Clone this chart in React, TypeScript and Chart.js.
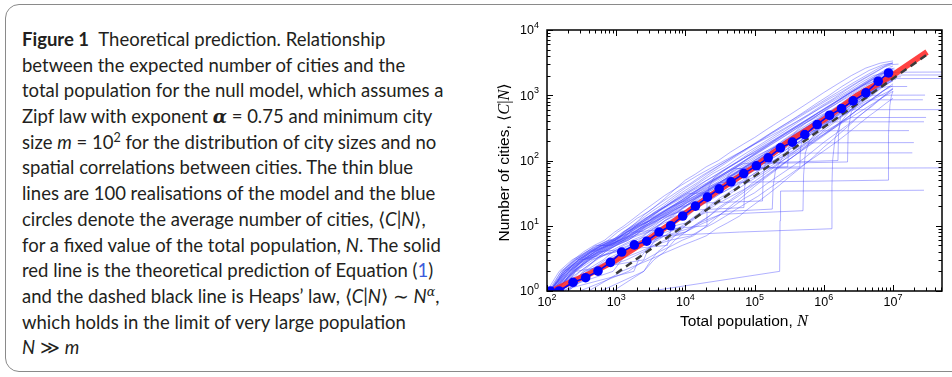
import React, { useEffect, useRef } from 'react';
import { Chart, registerables } from 'chart.js';

Chart.register(...registerables);

// ---------- axis ranges & ticks ----------
const X_MIN = 100;
const X_MAX = 5.1e7;
const Y_MIN = 1;
const Y_MAX = 1e4;
const X_TICKS = [1e2, 1e3, 1e4, 1e5, 1e6, 1e7];
const Y_TICKS = [1e0, 1e1, 1e2, 1e3, 1e4];

// ---------- average number of cities (blue circles) ----------
const AVG_N = [112, 150, 238, 362, 546, 824, 1200, 1830, 2760, 4160, 6130, 9140, 13960, 20800, 30700, 45700, 69600,
  106000, 157000, 236000, 352000, 531000, 801000, 1210000, 1800000, 2650000, 4050000, 6100000, 8600000];
const AVG_C = [1.0, 1.0, 1.36, 1.6, 2.02, 2.75, 3.95, 5.1, 5.8, 8.0, 10.0, 14.1, 20, 27.5, 36.8, 47, 63,
  83, 110, 156, 191, 250, 356, 494, 625, 819, 1086, 1638, 2197];

// ---------- theoretical prediction (red) ----------
const THEORY_N = [120, 200, 400, 1000, 3000, 1e4, 3e4, 1e5, 3e5, 1e6, 3e6, 1e7, 3.1e7];
const THEORY_C = [1, 1.3, 1.8, 3.0, 6.3, 15.5, 35, 80, 190, 420, 980, 2050, 4600];

// ---------- Heaps' law (dashed black) ----------
const HEAPS_N = [1000, 3e7];
const HEAPS_C = [1.86, 4100];

// ---------- realisations of the model (thin blue), [N, C] ----------
const REALISATIONS: number[][][] = [
  [[120,1],[190,2],[280,3],[420,4],[560,5],[800,6],[1000,6],[1300,8],[1900,11],[2600,15],[3500,19],[5000,26],[7000,36],[1e4,50],[1.4e4,62],[2e4,80],[3e4,100],[4.5e4,135],[7e4,180],[1e5,225],[1.5e5,300],[2.2e5,390],[3.2e5,500],[5e5,680],[7.5e5,900],[1e6,1100],[1.6e6,1500],[2.5e6,2000],[4e6,2600],[6.5e6,3100],[9e6,3300],[1e7,3350]],
  [[110,1],[170,2],[300,3],[450,4],[600,5],[900,5],[1200,7],[1700,9],[2400,12],[3300,15],[4800,20],[7000,27],[1e4,35],[1.5e4,46],[2.2e4,62],[3.3e4,82],[5e4,110],[7.5e4,145],[1.1e5,190],[1.6e5,250],[2.4e5,330],[3.6e5,430],[5.5e5,580],[8e5,760],[1.2e6,1000],[1.8e6,1350],[2.8e6,1800],[4.5e6,2400],[7e6,2900],[1e7,3150]],
  [[140,1],[230,2],[330,3],[520,4],[750,5],[1000,6],[1400,7],[1900,10],[2700,13],[3800,16],[5500,21],[8000,28],[1.2e4,37],[1.7e4,48],[2.5e4,63],[3.8e4,80],[5.5e4,105],[8e4,135],[1.2e5,175],[1.8e5,230],[2.7e5,300],[4e5,390],[6e5,510],[9e5,680],[1.4e6,900],[2.1e6,1200],[3.2e6,1600],[5e6,2100],[7.5e6,2700],[9.5e6,2950],[1.2e7,3000]],
  [[100,1],[150,2],[230,3],[380,4],[500,5],[700,5],[950,6],[1300,8],[1800,10],[2500,12],[3500,16],[5200,20],[7500,26],[1.1e4,33],[1.6e4,43],[2.4e4,55],[3.6e4,72],[5.5e4,95],[8e4,125],[1.2e5,165],[1.8e5,215],[2.7e5,280],[4e5,370],[6e5,490],[9e5,650],[1.4e6,870],[2.2e6,1150],[3.4e6,1550],[5.2e6,2000],[8e6,2250],[5.2e7,2270]],
  [[130,1],[210,2],[350,3],[480,4],[700,5],[1100,6],[1500,8],[2100,10],[3000,12],[4200,15],[6000,19],[8500,24],[1.2e4,31],[1.8e4,40],[2.7e4,52],[4e4,68],[6e4,88],[9e4,115],[1.35e5,150],[2e5,195],[3e5,255],[4.5e5,335],[7e5,440],[1e6,580],[1.5e6,780],[2.3e6,1050],[3.5e6,1400],[5.5e6,1850],[8e6,2040],[5.2e7,2045]],
  [[115,1],[180,2],[260,3],[400,4],[620,5],[850,6],[1150,7],[1600,9],[2300,11],[3200,14],[4500,18],[6500,23],[9500,30],[1.4e4,38],[2e4,49],[3e4,63],[4.4e4,80],[6.5e4,103],[9.5e4,133],[1.4e5,172],[2.1e5,222],[3.1e5,287],[4.6e5,370],[7e5,480],[1.05e6,620],[1.6e6,820],[2.4e6,1080],[3.7e6,1420],[5.5e6,1650],[9e6,1800],[5.2e7,1805]],
  [[150,1],[260,2],[400,3],[650,4],[900,5],[1300,6],[1800,7],[2500,9],[3500,11],[5000,14],[7000,17],[1e4,22],[1.5e4,28],[2.2e4,36],[3.2e4,47],[4.8e4,60],[7e4,78],[1e5,100],[1.5e5,130],[2.2e5,170],[3.2e5,220],[4.8e5,290],[7e5,380],[1e6,500],[1.5e6,660],[2.2e6,880],[3.3e6,1160],[5e6,1520],[7.5e6,1950],[9.5e6,2200],[1.1e7,2250]],
  [[110,1],[200,2],[310,3],[440,4],[640,5],[900,6],[1250,8],[1700,10],[2400,13],[3400,17],[4900,22],[7000,29],[1e4,38],[1.45e4,49],[2.1e4,64],[3e4,82],[4.4e4,105],[6.4e4,135],[9.3e4,175],[1.35e5,225],[2e5,290],[2.9e5,370],[4.2e5,470],[6.2e5,600],[9e5,770],[1.3e6,980],[1.9e6,1250],[2.8e6,1600],[4.2e6,2050],[6.2e6,2600],[8.5e6,3000],[1e7,3100]],
  [[125,1],[220,2],[340,3],[560,4],[800,5],[1150,6],[1600,8],[2200,10],[3100,13],[4400,16],[6300,20],[9000,25],[1.3e4,32],[1.9e4,41],[2.8e4,53],[4.1e4,69],[6e4,89],[8.8e4,115],[1.3e5,150],[1.9e5,195],[2.8e5,255],[4.1e5,330],[6e5,430],[8.8e5,560],[1.3e6,730],[1.9e6,950],[2.8e6,1230],[4.1e6,1600],[6e6,2050],[8.5e6,2500],[1.05e7,2600]],
  [[105,1],[160,2],[250,3],[370,4],[540,5],[760,6],[1050,8],[1450,10],[2000,13],[2800,16],[4000,21],[5700,27],[8200,35],[1.2e4,45],[1.7e4,58],[2.5e4,74],[3.7e4,95],[5.4e4,122],[8e4,157],[1.2e5,200],[1.75e5,258],[2.6e5,330],[3.8e5,420],[5.6e5,540],[8.2e5,690],[1.2e6,880],[1.8e6,1120],[2.6e6,1430],[3.8e6,1820],[5.6e6,2300],[8e6,2850],[9.8e6,3100]],
  [[160,1],[300,2],[520,3],[800,4],[1200,5],[1700,6],[2400,7],[3300,9],[4600,11],[6500,14],[9000,18],[1.3e4,23],[1.8e4,29],[2.6e4,37],[3.7e4,47],[5.3e4,60],[7.5e4,77],[1.1e5,98],[1.55e5,125],[2.2e5,160],[3.2e5,205],[4.6e5,262],[6.6e5,335],[9.5e5,430],[1.4e6,550],[2e6,700],[2.9e6,900],[4.2e6,1150],[6e6,1300],[9e6,1360],[1.6e7,1362]],
  [[140,1],[240,2],[380,3],[580,4],[850,5],[1250,6],[1800,7],[2600,8],[3600,10],[5000,13],[7000,16],[1e4,20],[1.4e4,26],[2e4,33],[2.9e4,42],[4.2e4,54],[6e4,70],[8.7e4,90],[1.25e5,116],[1.8e5,150],[2.6e5,194],[3.8e5,250],[5.5e5,320],[8e5,410],[1.15e6,520],[1.7e6,660],[2.5e6,840],[3.6e6,1070],[5.3e6,1370],[7.8e6,1750],[1e7,1900],[1.3e7,1920]],
  [[120,1],[170,2],[240,3],[340,4],[480,5],[680,6],[950,8],[1300,10],[1800,13],[2500,17],[3500,22],[5000,29],[7200,37],[1.05e4,47],[1.5e4,59],[2.2e4,74],[3.2e4,92],[4.7e4,115],[6.9e4,143],[1e5,178],[1.5e5,222],[2.2e5,276],[3.2e5,344],[4.7e5,430],[6.9e5,540],[1e6,680],[1.5e6,860],[2.2e6,1090],[3.2e6,1390],[4.7e6,1780],[6.9e6,2280],[9e6,2700],[1e7,2800]],
  [[200,1],[330,2],[500,3],[700,4],[1000,5],[1400,6],[2000,8],[2800,10],[4000,12],[5600,15],[8000,19],[1.15e4,24],[1.65e4,30],[2.4e4,39],[3.5e4,50],[5e4,64],[7.2e4,82],[1.05e5,105],[1.5e5,135],[2.2e5,172],[3.2e5,220],[4.6e5,282],[6.7e5,360],[9.7e5,460],[1.4e6,590],[2e6,750],[2.9e6,960],[4.2e6,1230],[6e6,1570],[8.7e6,1990],[1e7,2100]],
  [[110,1],[180,2],[290,3],[430,4],[610,5],[880,6],[1250,8],[1800,10],[2600,13],[3700,16],[5300,20],[7600,25],[1.1e4,31],[3.5e4,33],[3.7e4,45],[4.2e4,60],[5.5e4,80],[7.5e4,103],[1.05e5,132],[1.5e5,168],[2.1e5,214],[3e5,272],[4.3e5,345],[6.1e5,438],[8.7e5,555],[1.24e6,700],[1.77e6,885],[2.5e6,1120],[3.6e6,1410],[5.1e6,1780],[7.3e6,2240],[9.5e6,2600]],
  [[135,1],[250,2],[370,3],[540,4],[790,5],[1150,6],[1650,7],[2350,9],[3300,12],[4700,15],[6700,19],[9500,24],[1.35e4,31],[1.95e4,40],[2.8e4,51],[4e4,65],[5.7e4,83],[8.2e4,106],[1.18e5,135],[1.7e5,172],[2.45e5,219],[3.5e5,279],[5e5,356],[7.2e5,454],[1.03e6,580],[1.5e6,740],[2.1e6,940],[3e6,1200],[4.3e6,1530],[6.2e6,1950],[8.5e6,2400],[1.05e7,2450]],
  [[150,1],[1800,2],[2100,3],[2600,4],[3200,5],[4000,7],[5200,9],[7000,12],[9500,15],[1.3e4,19],[1.8e4,24],[2.6e4,31],[3.7e4,40],[5.3e4,51],[7.6e4,66],[1.1e5,85],[1.6e5,110],[2.3e5,142],[3.3e5,183],[4.8e5,236],[7e5,304],[1e6,390],[1.45e6,500],[2.1e6,640],[3e6,820],[4.3e6,1050],[6.2e6,1340],[9e6,1700],[1.1e7,1750]],
  [[120,1],[210,2],[330,3],[500,4],[750,5],[1100,6],[1600,7],[2300,9],[3300,11],[4700,14],[6800,18],[9800,23],[1.4e4,29],[2e4,37],[2.9e4,47],[4.2e4,60],[6e4,77],[8.7e4,98],[1.25e5,125],[1.8e5,158],[2.6e5,200],[3.7e5,254],[5.4e5,322],[7.8e5,408],[1.1e6,517],[1.6e6,655],[2.3e6,800],[3.2e6,900],[4.5e6,980],[5e6,1000],[2.9e7,1005]],
  [[130,1],[250,2],[400,3],[620,4],[950,5],[1400,6],[2000,7],[2900,8],[4100,10],[5900,12],[8500,15],[1.2e4,19],[1.75e4,24],[2.5e4,30],[3.6e4,38],[5.2e4,48],[7.5e4,61],[1.08e5,78],[1.55e5,99],[2.25e5,125],[3.2e5,159],[4.65e5,202],[6.7e5,256],[9.6e5,325],[1.4e6,412],[2e6,522],[2.9e6,662],[4e6,800],[4.5e6,850],[2.7e7,852]],
  [[110,1],[160,2],[260,3],[400,4],[600,5],[880,6],[1300,7],[1900,9],[2700,11],[3900,14],[5600,18],[8000,23],[1.15e4,29],[1.65e4,37],[2.4e4,47],[3.5e4,59],[5e4,75],[3e5,80],[3.1e5,150],[3.4e5,230],[4.2e5,300],[5.6e5,380],[7.5e5,450],[1e6,520],[1.3e6,580],[1.5e6,600],[5.2e7,602]],
  [[160,1],[350,2],[650,3],[900,4],[1300,5],[1900,6],[2800,7],[4000,9],[5700,11],[8200,14],[1.2e4,17],[1.7e4,21],[2.4e4,26],[3.5e4,33],[5e4,41],[7.2e4,52],[1.04e5,65],[1.5e5,82],[2.15e5,103],[3.1e5,130],[4.5e5,164],[6.5e5,206],[9.3e5,260],[1.35e6,327],[1.9e6,400],[2.4e6,455],[3e7,457]],
  [[120,1],[200,2],[320,3],[480,4],[700,5],[1000,6],[1450,8],[2100,10],[3000,12],[4300,15],[6200,19],[9000,24],[1.3e4,30],[1.9e4,38],[2.7e4,48],[3.9e4,60],[5.6e4,75],[4.5e5,80],[4.6e5,150],[4.9e5,230],[5.5e5,300],[6.5e5,360],[7.5e5,390],[2.8e7,392]],
  [[130,1],[240,2],[380,3],[600,4],[850,5],[1300,6],[1900,8],[2700,11],[4000,14],[6000,18],[9000,23],[1.4e4,29],[2.1e4,37],[3.2e4,47],[4.8e4,60],[7e4,78],[1.1e5,100],[1.6e5,130],[2.4e5,170],[3.6e5,215],[5e5,260],[6e5,285],[1.7e7,287]],
  [[110,1],[190,2],[300,3],[460,4],[700,5],[950,6],[1400,8],[2000,10],[3000,13],[4300,17],[6500,22],[1e4,28],[1.5e4,36],[2.2e4,46],[3.3e4,58],[5e4,74],[7.5e4,95],[1.1e5,120],[1.7e5,150],[2.5e5,180],[2.7e5,186],[2e7,188]],
  [[140,1],[250,2],[420,3],[650,4],[1000,5],[1500,6],[2200,8],[3300,10],[5000,13],[7500,16],[1.1e4,21],[1.7e4,26],[2.6e4,33],[4e4,41],[6e4,52],[9e4,66],[1.4e5,85],[2.1e5,105],[3e5,125],[3.2e5,130],[1.9e7,131]],
  [[120,1],[300,2],[500,3],[700,4],[1000,5],[1500,7],[2200,9],[3500,12],[5000,15],[8000,19],[1.2e4,24],[1.8e4,30],[2.7e4,38],[4e4,48],[6e4,60],[8e4,72],[9e4,76],[5e7,77]],
  [[3200,1],[2.3e5,2],[2.33e5,12],[2.37e5,34],[2.8e7,35]],
  [[150,1],[400,2],[700,3],[1200,4],[2000,5],[3000,6],[4500,7],[6e4,8],[1.3e6,9],[1.31e6,40],[1.34e6,100],[1.45e6,220],[1.8e6,400],[2.6e6,650],[3.8e6,950],[5.5e6,1300],[8e6,1650],[1e7,1800]],
  [[200,1],[500,2],[900,3],[1500,4],[2500,5],[4000,6],[6000,8],[9000,10],[1.3e4,13],[2e4,16],[1.8e5,18],[1.85e5,40],[2e5,70],[2.5e5,110],[3.5e5,160],[5e5,220],[8e5,310],[1.3e6,430],[2e6,600],[3.2e6,850],[5e6,1150],[8e6,1500],[1e7,1650]],
  [[110,1],[190,2],[290,3],[450,4],[650,5],[950,6],[1400,8],[2000,10],[2900,13],[4200,17],[6000,22],[9000,28],[1.3e4,35],[2e4,45],[3e4,57],[4.5e4,72],[7e4,90],[1.6e6,100],[1.63e6,250],[1.75e6,480],[2.3e6,750],[3.5e6,1100],[5.5e6,1500],[8.5e6,1950],[1e7,2100]],
  [[130,1],[220,2],[350,3],[550,4],[800,5],[1200,6],[1800,8],[2600,10],[3800,13],[5500,16],[8000,20],[1.2e4,25],[1.8e4,32],[2.7e4,40],[4e4,50],[6e4,62],[9e4,75],[1.3e5,90],[2.2e6,95],[2.25e6,300],[2.5e6,560],[3.5e6,850],[5e6,1150],[7.5e6,1500],[9.5e6,1700]],
  [[120,1],[210,2],[330,3],[500,4],[750,5],[1100,6],[1600,8],[2300,10],[3300,13],[4700,16],[6800,20],[9800,25],[1.4e4,31],[2e4,38],[3e4,46],[8.5e6,50],[8.6e6,250],[9e6,700],[9.5e6,1000],[1e7,1150]],
  [[130,1],[900,2],[1200,3],[1600,4],[2100,5],[2800,7],[3700,9],[5000,12],[6800,15],[9300,19],[1.3e4,24],[1.8e4,30],[2.5e4,38],[3.5e4,48],[5e4,60],[7e4,76],[1e5,96],[1.4e5,120],[2e5,150],[2.8e5,190],[4e5,240],[5.7e5,300],[8e5,380],[1.15e6,480],[1.6e6,600],[2.3e6,760],[3.3e6,960],[4.7e6,1210],[6.7e6,1520],[9e6,1850],[1e7,1950]],
  [[600,1],[2500,2],[3200,3],[4000,4],[5200,5],[7000,7],[9000,9],[1.2e4,12],[1.6e4,15],[2.2e4,19],[3e4,24],[4.2e4,30],[6e4,38],[8.5e4,48],[1.2e5,60],[1.7e5,76],[2.4e5,96],[3.4e5,120],[4.8e5,152],[6.8e5,192],[9.6e5,242],[1.35e6,305],[1.9e6,385],[2.7e6,485],[3.8e6,610],[5.4e6,770],[7.6e6,970],[1e7,1150]],
  [[140,1],[230,2],[360,3],[560,4],[5500,5],[5800,7],[6500,10],[8000,14],[1.05e4,18],[1.45e4,23],[2e4,29],[2.8e4,37],[4e4,47],[5.6e4,60],[8e4,76],[1.13e5,96],[1.6e5,122],[2.3e5,155],[3.2e5,196],[4.6e5,248],[6.5e5,314],[9.2e5,397],[1.3e6,502],[1.85e6,635],[2.6e6,803],[3.7e6,1015],[5.2e6,1283],[7.4e6,1622],[9.5e6,1900]],
  [[120,1],[200,2],[320,3],[500,4],[760,5],[1150,6],[1700,8],[2500,10],[3700,12],[5400,15],[8000,19],[1.2e4,22],[1.3e5,24],[1.33e5,60],[1.45e5,100],[1.8e5,150],[2.5e5,200],[3.6e5,260],[5.2e5,330],[7.5e5,420],[1.1e6,530],[1.6e6,670],[2.3e6,850],[3.3e6,1080],[4.8e6,1370],[7e6,1740],[9.5e6,2050]],
  [[170,1],[260,2],[2500,3],[2800,4],[3200,5],[3800,6],[4600,8],[5800,10],[7500,13],[1e4,16],[1.4e4,20],[1.9e4,25],[2.7e4,32],[3.8e4,40],[5.3e4,51],[7.4e4,64],[1.05e5,81],[1.5e5,102],[2.1e5,128],[3e5,162],[4.2e5,205],[6e5,258],[8.5e5,325],[1.2e6,410],[1.7e6,518],[2.4e6,653],[3.4e6,824],[4.8e6,1040],[6.8e6,1312],[9.5e6,1650]],
  [[110,1],[180,2],[280,3],[420,4],[640,5],[960,6],[1450,8],[2150,10],[3200,12],[4700,15],[7000,19],[1.05e4,24],[1.55e4,30],[2.3e4,38],[3.4e4,48],[5e4,60],[7.4e4,76],[1.1e5,96],[1.6e5,121],[2.4e5,152],[3.5e5,190],[5.2e5,238],[7.7e5,298],[1.14e6,372],[1.7e6,464],[2.5e6,580],[3.7e6,720],[5.5e6,900],[8e6,1100],[1e7,1250]],
  [[140,1],[500,2],[1400,3],[2500,4],[3500,5],[5000,6],[7000,7],[1e4,8],[1.5e4,11],[2.2e4,14],[3e4,19],[4.5e4,25],[7e4,35],[1e5,48],[1.5e5,65],[2.2e5,88],[3.2e5,120],[5e5,170],[7e5,225],[1e6,310],[1.5e6,420],[2.2e6,560],[3.2e6,750],[5e6,1050],[7e6,1400],[1e7,1800]],
  [[300,1],[1500,2],[2600,3],[4200,4],[6500,5],[9000,6],[1.3e4,7],[1.8e4,9],[2.5e4,12],[3.5e4,16],[5e4,22],[7e4,29],[1e5,40],[1.5e5,56],[2.2e5,76],[3.2e5,104],[5e5,150],[7e5,205],[1e6,290],[1.5e6,400],[2.2e6,540],[3.2e6,720],[5e6,1000],[7e6,1320],[1e7,1700]],
  [[120,1],[230,2],[420,3],[1000,4],[1600,5],[2400,6],[3600,7],[5200,8],[7500,9],[1e4,10],[1.4e4,13],[2e4,17],[3e4,22],[4.5e4,28],[7e4,36],[1e5,44],[1.5e5,60],[2.2e5,80],[3.2e5,105],[5e5,145],[7e5,185],[1e6,240],[1.5e6,330],[2.2e6,450],[3.2e6,620],[5e6,880],[7e6,1150],[1e7,1400]],
  [[160,1],[380,2],[800,3],[1300,4],[2000,5],[2800,6],[3800,8],[5200,10],[7000,12],[1e4,13],[1.4e4,18],[2e4,24],[3e4,31],[4.5e4,42],[7e4,56],[1e5,72],[1.5e5,95],[2.2e5,122],[3.2e5,158],[5e5,210],[7e5,270],[1e6,340],[1.5e6,460],[2.2e6,600],[3.2e6,800],[5e6,1120],[7e6,1500],[1e7,1950]],
  [[110,1],[180,2],[320,3],[1000,4],[2000,5],[3200,6],[5000,7],[1e4,8],[1.5e4,10],[2.2e4,12],[3.2e4,15],[5e4,20],[7e4,26],[1e5,32],[1.5e5,44],[2.2e5,58],[3.2e5,76],[5e5,105],[7e5,140],[1e6,190],[1.5e6,260],[2.2e6,350],[3.2e6,480],[5e6,680],[7e6,920],[1e7,1250]],
  [[200,1],[450,2],[800,3],[1300,4],[1800,5],[2500,7],[3500,9],[5000,12],[7000,14],[1e4,15],[1.5e4,19],[2.2e4,24],[3.2e4,31],[5e4,40],[7e4,48],[1e5,56],[1.5e5,75],[2.2e5,97],[3.2e5,125],[5e5,165],[7e5,205],[1e6,255],[1.5e6,345],[2.2e6,460],[3.2e6,620],[5e6,860],[7e6,1130],[1e7,1500]],
  [[130,1],[260,2],[460,3],[900,4],[1500,5],[2300,6],[3400,7],[4800,9],[7000,10],[1e4,11],[1.5e4,15],[2.2e4,20],[3.2e4,27],[5e4,36],[7e4,48],[1e5,64],[1.5e5,86],[2.2e5,112],[3.2e5,148],[5e5,200],[7e5,265],[1e6,370],[1.5e6,500],[2.2e6,650],[3.2e6,850],[5e6,1180],[7e6,1550],[1e7,2050]],
  [[150,1],[350,2],[1100,3],[2200,4],[3500,5],[6000,6],[1.2e4,7],[1.8e4,9],[2.6e4,11],[3.8e4,14],[5.5e4,18],[8e4,23],[1.1e5,28],[1.6e5,37],[2.3e5,48],[3.3e5,62],[4.8e5,82],[7e5,108],[1e6,140],[1.5e6,190],[2.2e6,260],[3.2e6,360],[4.5e6,480],[6e6,600],[8e6,760],[1e7,900]],
  [[115,1],[190,2],[280,3],[430,4],[800,5],[1100,6],[1500,7],[2100,8],[2800,10],[3800,12],[5000,14],[6800,16],[8500,19],[1e4,20],[1.4e4,26],[2e4,33],[2.8e4,42],[4e4,55],[6e4,70],[8e4,84],[1e5,92],[1.5e5,125],[2.2e5,160],[3.2e5,210],[4.5e5,265],[6.5e5,335],[1e6,440],[1.5e6,600],[2.2e6,790],[3.2e6,1040],[5e6,1400],[7e6,1800],[1e7,2300]],
  [[400,1],[1200,2],[3000,3],[5500,4],[9000,5],[1.4e4,6],[2e4,7],[2.8e4,9],[4e4,11],[6e4,14],[8e4,18],[1.1e5,23],[1.6e5,31],[2.3e5,42],[3.3e5,58],[4.8e5,80],[7e5,112],[1e6,160],[1.5e6,230],[2.2e6,330],[3.2e6,470],[4.5e6,640],[6e6,820],[8e6,1050],[1e7,1300]],
  [[900,1],[2500,2],[3500,3],[5000,4],[7000,6],[1e4,8],[1.4e4,10],[2e4,13],[2.8e4,17],[4e4,22],[6e4,29],[8.5e4,38],[1.2e5,49],[1.7e5,64],[2.4e5,84],[3.4e5,110],[4.8e5,144],[7e5,190],[1e6,250],[1.5e6,340],[2.2e6,460],[3.2e6,620],[4.5e6,820],[6.5e6,1080],[9e6,1380]],
  [[125,1],[210,2],[340,3],[600,4],[900,5],[1300,6],[1800,8],[2500,10],[3300,13],[4500,16],[6000,19],[8000,22],[1e4,24],[1.4e4,33],[2e4,44],[2.8e4,57],[4e4,75],[6e4,98],[8e4,118],[1e5,130],[1.5e5,170],[2.2e5,220],[3.2e5,280],[4.5e5,350],[6.5e5,440],[1e6,560],[1.5e6,730],[2.2e6,930],[3.2e6,1190],[5e6,1600],[7e6,2050],[1e7,2550]],
  [[130,1],[240,2],[400,3],[650,4],[1000,5],[1500,6],[2200,8],[3200,10],[4500,13],[6500,15],[9000,17],[7e4,19],[7.2e4,40],[7.8e4,60],[9e4,75],[1.2e5,95],[1.7e5,125],[2.4e5,160],[3.4e5,205],[5e5,265],[7e5,335],[1e6,430],[1.5e6,570],[2.2e6,740],[3.2e6,960],[4.8e6,1260],[7e6,1640],[1e7,2100]],
  [[110,1],[170,2],[260,3],[380,4],[550,5],[800,6],[1200,7],[1800,8],[2e4,10],[2.05e4,25],[2.2e4,40],[2.6e4,55],[3.5e4,70],[5e4,88],[7e4,108],[1e5,135],[1.5e5,175],[2.2e5,225],[3.2e5,290],[4.6e5,370],[6.6e5,470],[9.5e5,600],[1.4e6,770],[2e6,980],[3e6,1250],[4.4e6,1600],[6.5e6,2050],[9e6,2450]],
  [[180,1],[450,2],[900,3],[1500,4],[2300,5],[3500,6],[5000,7],[7500,8],[1.1e4,9],[1.6e4,11],[2.3e4,13],[3.3e4,15],[5e5,17],[5.1e5,60],[5.4e5,130],[6.2e5,200],[8e5,280],[1.1e6,380],[1.6e6,510],[2.3e6,680],[3.3e6,900],[4.8e6,1180],[7e6,1550],[1e7,1950]],
];

const SANS = '"Liberation Sans", Arial, Helvetica, sans-serif';
const MATH = '"Liberation Serif", "DejaVu Serif", serif';

const framePlugin = {
  id: 'frameAndLabels',
  afterDraw(chart: any) {
    const { ctx, chartArea: a, scales } = chart;
    const xs = scales.x;
    const ys = scales.y;
    ctx.save();
    ctx.strokeStyle = '#000';
    ctx.lineWidth = 1;
    const seg = (x1: number, y1: number, x2: number, y2: number) => {
      ctx.beginPath();
      ctx.moveTo(x1, y1);
      ctx.lineTo(x2, y2);
      ctx.stroke();
    };
    for (const d of X_TICKS) {
      for (let m = 1; m < 10; m++) {
        const v = d * m;
        if (v > X_MAX) break;
        const px = Math.round(xs.getPixelForValue(v)) + 0.5;
        const len = m === 1 ? 6 : 3.5;
        seg(px, a.bottom, px, a.bottom - len);
        seg(px, a.top, px, a.top + len);
      }
    }
    for (const d of Y_TICKS) {
      for (let m = 1; m < 10; m++) {
        const v = d * m;
        if (v > Y_MAX) break;
        const py = Math.round(ys.getPixelForValue(v)) + 0.5;
        const len = m === 1 ? 6 : 3.5;
        seg(a.left, py, a.left + len, py);
        seg(a.right, py, a.right - len, py);
      }
    }
    ctx.lineWidth = 1.5;
    ctx.strokeRect(a.left, a.top, a.right - a.left, a.bottom - a.top);

    ctx.fillStyle = '#000';
    ctx.textBaseline = 'middle';
    ctx.textAlign = 'left';
    const baseFont = `12.5px ${SANS}`;
    const supFont = `9px ${SANS}`;
    for (const v of X_TICKS) {
      const e = String(Math.round(Math.log10(v)));
      ctx.font = baseFont;
      const w1 = ctx.measureText('10').width;
      ctx.font = supFont;
      const w2 = ctx.measureText(e).width;
      const px = xs.getPixelForValue(v);
      const x0 = px - (w1 + w2) / 2;
      ctx.font = baseFont;
      ctx.fillText('10', x0, a.bottom + 12);
      ctx.font = supFont;
      ctx.fillText(e, x0 + w1, a.bottom + 6.5);
    }
    for (const v of Y_TICKS) {
      const e = String(Math.round(Math.log10(v)));
      ctx.font = supFont;
      const w2 = ctx.measureText(e).width;
      ctx.font = baseFont;
      const w1 = ctx.measureText('10').width;
      const py = ys.getPixelForValue(v);
      const xr = a.left - 8;
      ctx.font = baseFont;
      ctx.fillText('10', xr - w2 - w1, py + 1);
      ctx.font = supFont;
      ctx.fillText(e, xr - w2, py - 4.5);
    }

    const drawParts = (parts: [string, string][], cx: number, cy: number, rot: number) => {
      ctx.save();
      ctx.translate(cx, cy);
      ctx.rotate(rot);
      let total = 0;
      for (const [t, f] of parts) {
        ctx.font = f;
        total += ctx.measureText(t).width;
      }
      let x = -total / 2;
      for (const [t, f] of parts) {
        ctx.font = f;
        ctx.fillText(t, x, 0);
        x += ctx.measureText(t).width;
      }
      ctx.restore();
    };
    const tf = `15.5px ${SANS}`;
    const mf = `italic 16.5px ${MATH}`;
    const bf = `15.5px "DejaVu Sans", sans-serif`;
    drawParts(
      [['Number of cities, ', tf], ['\u27E8', bf], ['C', mf], ['|', `16.5px ${MATH}`], ['N', mf], ['\u27E9', bf]],
      a.left - 42, (a.top + a.bottom) / 2 + 2, -Math.PI / 2
    );
    drawParts([['Total population, ', tf], ['N', mf]], (a.left + a.right) / 2 - 0.5, a.bottom + 31, 0);
    ctx.restore();
  },
};

function ChartBox() {
  const ref = useRef<HTMLCanvasElement | null>(null);
  useEffect(() => {
    if (!ref.current) return;
    const thin = REALISATIONS.map((path) => ({
      data: path.map(([n, c]) => ({ x: n, y: c })),
      borderColor: 'rgba(70,70,255,0.42)',
      borderWidth: 1,
      pointRadius: 0,
      showLine: true,
      order: 4,
    }));
    const chart = new Chart(ref.current, {
      type: 'scatter',
      data: {
        datasets: [
          {
            data: AVG_N.map((n, i) => ({ x: n, y: AVG_C[i] })),
            borderColor: '#0000ff',
            borderWidth: 1.5,
            pointRadius: 4.8,
            pointBackgroundColor: '#0000ff',
            pointBorderWidth: 0,
            showLine: true,
            order: 1,
          },
          {
            data: HEAPS_N.map((n, i) => ({ x: n, y: HEAPS_C[i] })),
            borderColor: '#3a3a3a',
            borderWidth: 2.5,
            borderDash: [7, 5],
            pointRadius: 0,
            showLine: true,
            order: 2,
          },
          {
            data: THEORY_N.map((n, i) => ({ x: n, y: THEORY_C[i] })),
            borderColor: 'rgba(255,40,40,0.88)',
            borderWidth: 6,
            pointRadius: 0,
            showLine: true,
            order: 3,
          },
          ...thin,
        ],
      } as any,
      options: {
        animation: false,
        responsive: false,
        events: [],
        layout: { padding: { left: 0, right: 10, top: 30, bottom: 0 } },
        plugins: { legend: { display: false }, tooltip: { enabled: false } },
        scales: {
          x: {
            type: 'logarithmic',
            min: X_MIN,
            max: X_MAX,
            grid: { display: false },
            border: { display: false },
            ticks: { display: false },
            afterFit: (s: any) => { s.height = 86; },
          },
          y: {
            type: 'logarithmic',
            min: Y_MIN,
            max: Y_MAX,
            grid: { display: false },
            border: { display: false },
            ticks: { display: false },
            afterFit: (s: any) => { s.width = 67; },
          },
        },
      } as any,
      plugins: [framePlugin],
    });
    return () => chart.destroy();
  }, []);
  return <canvas ref={ref} width={472} height={377} style={{ position: 'absolute', left: 480, top: 0, width: 472, height: 377 }} />;
}

const CAP_FONT = 'Lato, "Open Sans", sans-serif';
const it: React.CSSProperties = { fontStyle: 'italic' };
const supS: React.CSSProperties = { fontSize: '0.68em', verticalAlign: '0.55em', lineHeight: 0 };

const CAPTION_LINES: React.ReactNode[] = [
  <><b>Figure 1</b>{'\u2002'}Theoretical prediction. Relationship</>,
  <>between the expected number of cities and the</>,
  <>total population for the null model, which assumes a</>,
  <>Zipf law with exponent <b style={{ fontStyle: 'italic', fontFamily: '"DejaVu Serif", serif' }}>α</b> = 0.75 and minimum city</>,
  <>size <span style={it}>m</span> = 10<span style={supS}>2</span> for the distribution of city sizes and no</>,
  <>spatial correlations between cities. The thin blue</>,
  <>lines are 100 realisations of the model and the blue</>,
  <>circles denote the average number of cities, ⟨<span style={it}>C</span>|<span style={it}>N</span>⟩,</>,
  <>for a fixed value of the total population, <span style={it}>N</span>. The solid</>,
  <>red line is the theoretical prediction of Equation (<span style={{ color: '#3b5bdb' }}>1</span>)</>,
  <>and the dashed black line is Heaps’ law, ⟨<span style={it}>C</span>|<span style={it}>N</span>⟩ ∼ <span style={it}>N</span><span style={{ ...supS, ...it, fontFamily: '"DejaVu Serif", serif' }}>α</span>,</>,
  <>which holds in the limit of very large population</>,
  <><span style={it}>N</span> ≫ <span style={it}>m</span></>,
];

export default function App() {
  return (
    <div style={{ position: 'fixed', left: 0, top: 0, width: 952, height: 377, background: '#fff', overflow: 'hidden' }}>
      <div style={{ position: 'absolute', left: 5, top: 4, width: 1000, height: 368, border: '1px solid #8a8a8a', borderRadius: 14, boxSizing: 'border-box' }} />
      <div style={{ position: 'absolute', left: 22, top: 27, fontFamily: CAP_FONT, fontSize: 18.5, color: '#231f20', whiteSpace: 'nowrap' }}>
        {CAPTION_LINES.map((ln, i) => (
          <div key={i} style={{ height: 25.7, lineHeight: '25.7px' }}>{ln}</div>
        ))}
      </div>
      <ChartBox />
    </div>
  );
}
